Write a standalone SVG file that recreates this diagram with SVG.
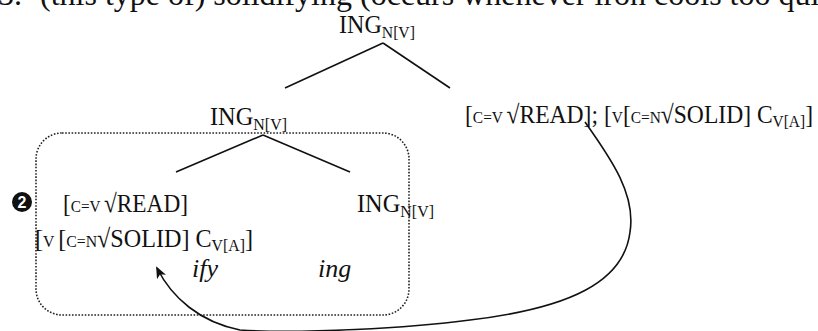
<svg xmlns="http://www.w3.org/2000/svg" width="818" height="331" viewBox="0 0 818 331">
<style>
.t{font-family:"Liberation Serif","Times New Roman",serif;fill:#111;}
.big{font-size:26px;}
.sm{font-size:17px;}
.it{font-style:italic;}
.edge{stroke:#111;stroke-width:1.6;fill:none;}
</style>
<defs>
<marker id="ah" viewBox="0 0 12 10" refX="10" refY="5" markerWidth="12" markerHeight="10" markerUnits="userSpaceOnUse" orient="auto">
<path d="M0,0 L12,5 L0,10 L3,5 z" fill="#111"/>
</marker>
</defs>
<rect width="818" height="331" fill="#fff"/>
<g id="header">
<text class="t" x="-2" y="5" font-size="32">5.</text>
<text class="t" x="40" y="5" font-size="32">(this type of) solidifying (occurs whenever iron cools too quickly)</text>
</g>
<g id="box">
<rect x="36" y="133" width="373" height="182" rx="26" ry="26" fill="none" stroke="#222" stroke-width="1.6" stroke-dasharray="1.6 1.6"/>
</g>
<g id="connectors">
<line class="edge" x1="383" y1="43" x2="285" y2="88"/>
<line class="edge" x1="383" y1="43" x2="450" y2="88"/>
<line class="edge" x1="263" y1="135" x2="176" y2="172"/>
<line class="edge" x1="263" y1="135" x2="350" y2="172"/>
<path class="edge" d="M585,122 C612,160 636,195 630,232 C624,282 570,308 470,320 C410,328 300,334 240,330 C200,322 172,298 157,268" marker-end="url(#ah)"/>
</g>
<g id="root">
<text class="t big" x="339" y="33" textLength="76" lengthAdjust="spacingAndGlyphs">ING<tspan class="sm" dy="5">N[V]</tspan></text>
</g>
<g id="ing-mid">
<text class="t big" x="210" y="125" textLength="77" lengthAdjust="spacingAndGlyphs">ING<tspan class="sm" dy="5">N[V]</tspan></text>
</g>
<g id="right-node">
<text class="t big" x="465" y="123" textLength="348" lengthAdjust="spacingAndGlyphs">[<tspan class="sm">C=V </tspan>√READ]; [<tspan class="sm">V</tspan>[<tspan class="sm">C=N</tspan>√SOLID] C<tspan class="sm" dy="4">V[A]</tspan><tspan dy="-4">]</tspan></text>
</g>
<g id="marker-2">
<circle cx="22" cy="202" r="10" fill="#111"/>
<text x="22" y="208" text-anchor="middle" font-family="Liberation Sans, Arial, sans-serif" font-weight="bold" font-size="16" fill="#fff">2</text>
</g>
<g id="read-node">
<text class="t big" x="63" y="212" textLength="125" lengthAdjust="spacingAndGlyphs">[<tspan class="sm">C=V </tspan>√READ]</text>
<text class="t big" x="35" y="247" textLength="218" lengthAdjust="spacingAndGlyphs">[<tspan class="sm">V </tspan> [<tspan class="sm">C=N</tspan>√SOLID] C<tspan class="sm" dy="4">V[A]</tspan><tspan dy="-4">]</tspan></text>
<text class="t big it" x="192" y="277">ify</text>
</g>
<g id="ing-right">
<text class="t big" x="357" y="212" textLength="77" lengthAdjust="spacingAndGlyphs">ING<tspan class="sm" dy="5">N[V]</tspan></text>
<text class="t big it" x="318" y="277">ing</text>
</g>
</svg>
